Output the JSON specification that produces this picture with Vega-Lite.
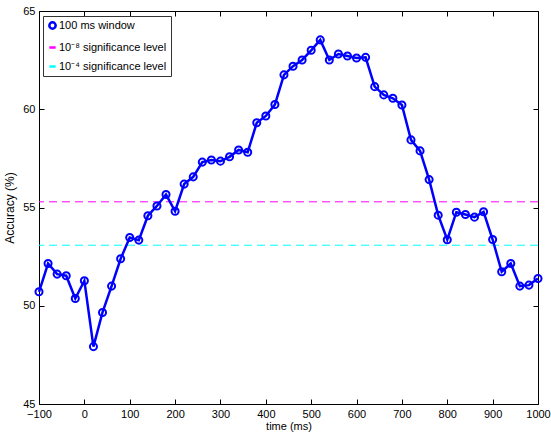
{
  "$schema": "https://vega.github.io/schema/vega-lite/v6.json",
  "width": 499,
  "height": 393,
  "autosize": {"type": "none"},
  "padding": {"left": 39, "top": 11, "right": 13, "bottom": 30},
  "background": "white",
  "config": {
    "view": {"stroke": "black", "strokeWidth": 1},
    "font": "Liberation Sans",
    "axis": {"grid": false, "domain": false, "tickColor": "black", "labelColor": "black", "titleColor": "black", "labelFont": "Liberation Sans", "titleFont": "Liberation Sans", "labelFontSize": 11, "titleFontSize": 11, "titleFontWeight": "normal", "tickSize": -5, "labelFlush": false, "labelOverlap": false}
  },
  "datasets": {
    "acc": [
      {"t": -100, "acc": 50.71, "series": "100 ms window"},
      {"t": -80, "acc": 52.15, "series": "100 ms window"},
      {"t": -60, "acc": 51.61, "series": "100 ms window"},
      {"t": -40, "acc": 51.53, "series": "100 ms window"},
      {"t": -20, "acc": 50.37, "series": "100 ms window"},
      {"t": 0, "acc": 51.27, "series": "100 ms window"},
      {"t": 20, "acc": 47.92, "series": "100 ms window"},
      {"t": 40, "acc": 49.66, "series": "100 ms window"},
      {"t": 60, "acc": 51.0, "series": "100 ms window"},
      {"t": 80, "acc": 52.39, "series": "100 ms window"},
      {"t": 100, "acc": 53.47, "series": "100 ms window"},
      {"t": 120, "acc": 53.34, "series": "100 ms window"},
      {"t": 140, "acc": 54.58, "series": "100 ms window"},
      {"t": 160, "acc": 55.08, "series": "100 ms window"},
      {"t": 180, "acc": 55.66, "series": "100 ms window"},
      {"t": 200, "acc": 54.81, "series": "100 ms window"},
      {"t": 220, "acc": 56.19, "series": "100 ms window"},
      {"t": 240, "acc": 56.56, "series": "100 ms window"},
      {"t": 260, "acc": 57.31, "series": "100 ms window"},
      {"t": 280, "acc": 57.42, "series": "100 ms window"},
      {"t": 300, "acc": 57.36, "series": "100 ms window"},
      {"t": 320, "acc": 57.58, "series": "100 ms window"},
      {"t": 340, "acc": 57.93, "series": "100 ms window"},
      {"t": 360, "acc": 57.81, "series": "100 ms window"},
      {"t": 380, "acc": 59.31, "series": "100 ms window"},
      {"t": 400, "acc": 59.66, "series": "100 ms window"},
      {"t": 420, "acc": 60.24, "series": "100 ms window"},
      {"t": 440, "acc": 61.75, "series": "100 ms window"},
      {"t": 460, "acc": 62.19, "series": "100 ms window"},
      {"t": 480, "acc": 62.51, "series": "100 ms window"},
      {"t": 500, "acc": 63.0, "series": "100 ms window"},
      {"t": 520, "acc": 63.53, "series": "100 ms window"},
      {"t": 540, "acc": 62.51, "series": "100 ms window"},
      {"t": 560, "acc": 62.81, "series": "100 ms window"},
      {"t": 580, "acc": 62.71, "series": "100 ms window"},
      {"t": 600, "acc": 62.61, "series": "100 ms window"},
      {"t": 620, "acc": 62.64, "series": "100 ms window"},
      {"t": 640, "acc": 61.15, "series": "100 ms window"},
      {"t": 660, "acc": 60.73, "series": "100 ms window"},
      {"t": 680, "acc": 60.56, "series": "100 ms window"},
      {"t": 700, "acc": 60.22, "series": "100 ms window"},
      {"t": 720, "acc": 58.44, "series": "100 ms window"},
      {"t": 740, "acc": 57.88, "series": "100 ms window"},
      {"t": 760, "acc": 56.42, "series": "100 ms window"},
      {"t": 780, "acc": 54.61, "series": "100 ms window"},
      {"t": 800, "acc": 53.36, "series": "100 ms window"},
      {"t": 820, "acc": 54.76, "series": "100 ms window"},
      {"t": 840, "acc": 54.64, "series": "100 ms window"},
      {"t": 860, "acc": 54.51, "series": "100 ms window"},
      {"t": 880, "acc": 54.78, "series": "100 ms window"},
      {"t": 900, "acc": 53.37, "series": "100 ms window"},
      {"t": 920, "acc": 51.73, "series": "100 ms window"},
      {"t": 940, "acc": 52.15, "series": "100 ms window"},
      {"t": 960, "acc": 51.0, "series": "100 ms window"},
      {"t": 980, "acc": 51.05, "series": "100 ms window"},
      {"t": 1000, "acc": 51.39, "series": "100 ms window"}
    ],
    "levels": [
      {"level": 55.29, "series": "10⁻⁸ significance level"},
      {"level": 53.08, "series": "10⁻⁴ significance level"}
    ]
  },
  "layer": [
    {
      "data": {"name": "levels"},
      "mark": {"type": "rule", "strokeWidth": 1, "strokeDash": [8, 5]},
      "encoding": {
        "y": {"field": "level", "type": "quantitative", "scale": {"domain": [45, 65], "nice": false, "zero": false}, "axis": null},
        "color": {"field": "series", "type": "nominal"}
      }
    },
    {
      "data": {"name": "acc"},
      "mark": {"type": "line", "strokeWidth": 2.5},
      "encoding": {
        "x": {"field": "t", "type": "quantitative", "scale": {"domain": [-100, 1000], "nice": false, "zero": false}, "axis": {"orient": "bottom", "values": [-100, 0, 100, 200, 300, 400, 500, 600, 700, 800, 900, 1000], "format": "d", "title": "time (ms)", "titlePadding": 1, "labelPadding": 9}},
        "y": {"field": "acc", "type": "quantitative", "scale": {"domain": [45, 65], "nice": false, "zero": false}, "axis": {"orient": "left", "values": [45, 50, 55, 60, 65], "format": "d", "title": "Accuracy (%)", "titleFontSize": 12, "titlePadding": 6, "labelPadding": 9}},
        "color": {
          "field": "series", "type": "nominal",
          "scale": {"domain": ["100 ms window", "10⁻⁸ significance level", "10⁻⁴ significance level"], "range": ["#0000ff", "#ff00ff", "#00ffff"]},
          "legend": {
            "title": null, "orient": "none", "legendX": 4, "legendY": 5,
            "fillColor": "white", "strokeColor": "#333333", "padding": 4,
            "labelFontSize": 11, "labelFont": "Liberation Sans", "labelColor": "black",
            "symbolSize": 40, "symbolStrokeWidth": 2.5, "rowPadding": 7, "labelOffset": 1,
            "symbolType": "stroke",
            "encode": {
              "symbols": {"update": {"shape": {"signal": "datum.value === '100 ms window' ? 'circle' : 'stroke'"}}}
            }
          }
        }
      }
    },
    {
      "data": {"name": "acc"},
      "mark": {"type": "point", "shape": "circle", "filled": false, "size": 50, "strokeWidth": 2, "opacity": 1},
      "encoding": {
        "x": {"field": "t", "type": "quantitative", "axis": {"orient": "top", "values": [-100, 0, 100, 200, 300, 400, 500, 600, 700, 800, 900, 1000], "labels": false, "title": null}},
        "y": {"field": "acc", "type": "quantitative", "axis": {"orient": "right", "values": [45, 50, 55, 60, 65], "labels": false, "title": null}},
        "color": {"field": "series", "type": "nominal"}
      }
    }
  ],
  "resolve": {"axis": {"x": "independent", "y": "independent"}}
}
